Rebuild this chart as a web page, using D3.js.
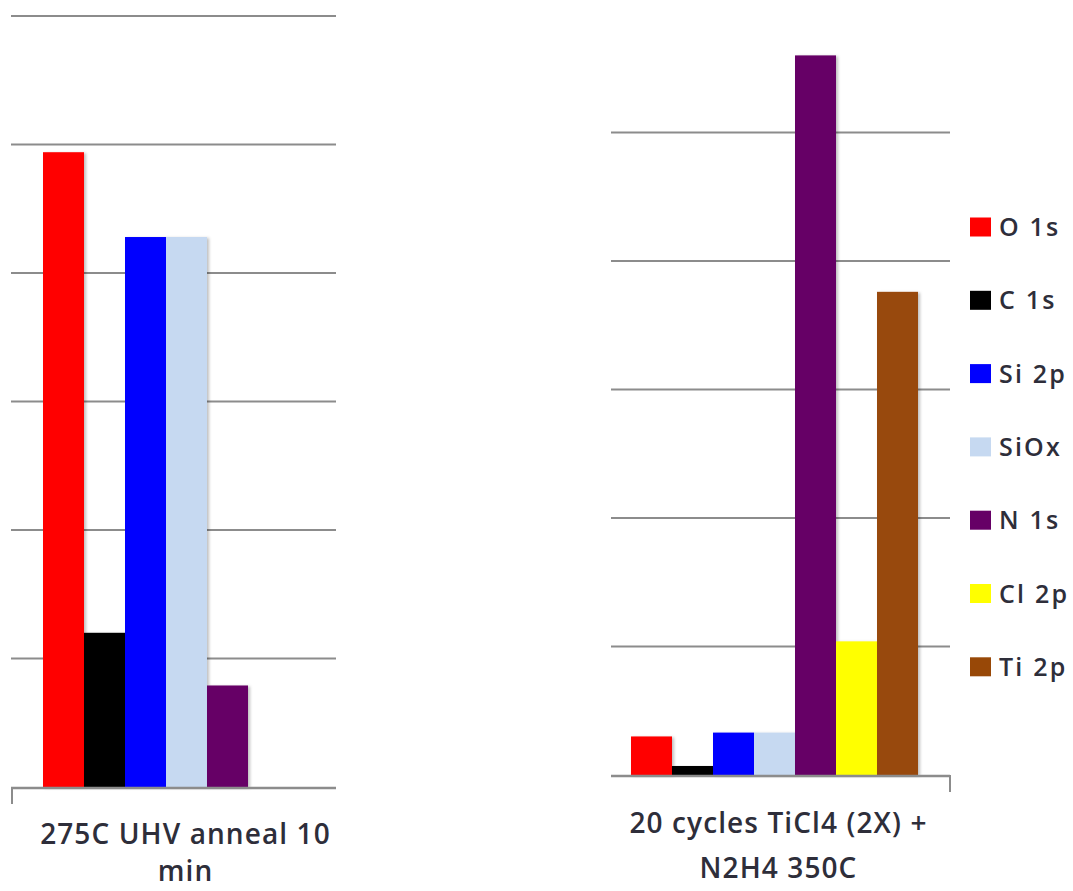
<!DOCTYPE html>
<html>
<head>
<meta charset="utf-8">
<script src="https://cdn.jsdelivr.net/npm/d3@7"></script>
<style>
  html, body { margin: 0; padding: 0; background: #fff; }
  svg { display: block; }
  text { font-family: "Open Sans", Lato, sans-serif; fill: #2e2e3a; font-weight: 600; }
</style>
</head>
<body>
<div id="chart"></div>
<script>
// series shown in both panels (legend order)
const series = ['O 1s', 'C 1s', 'Si 2p', 'SiOx', 'N 1s', 'Cl 2p', 'Ti 2p'];
const colors = ['#ff0000', '#000000', '#0000ff', '#c6d9f1', '#660066', '#ffff00', '#984807'];

// left panel: 275C UHV anneal 10 min (Cl 2p, Ti 2p not measured)
const annealLabel = ['275C UHV anneal 10', 'min'];
const annealValues = [4.94, 1.2, 4.28, 4.28, 0.79, 0, 0];

// right panel: 20 cycles TiCl4 (2X) + N2H4 350C
const depoLabel = ['20 cycles TiCl4 (2X) +', 'N2H4 350C'];
const depoValues = [0.3, 0.07, 0.33, 0.33, 5.6, 1.04, 3.76];

const gridTicksLeft = [1, 2, 3, 4, 5, 6];
const gridTicksRight = [1, 2, 3, 4, 5];

const width = 1073, height = 891;
const svg = d3.select('#chart').append('svg').attr('width', width).attr('height', height);

const defs = svg.append('defs');
defs.append('filter').attr('id', 'shadow').attr('x', '-10%').attr('y', '-10%')
  .attr('width', '130%').attr('height', '120%')
  .append('feDropShadow')
  .attr('dx', 2).attr('dy', 1).attr('stdDeviation', 1.5)
  .attr('flood-color', '#000').attr('flood-opacity', 0.25);

function panel(opts) {
  const g = svg.append('g');
  const y = d3.scaleLinear().domain([0, 6]).range([opts.base, opts.base - 6 * 128.5]);
  const x0 = d3.scaleBand().domain([opts.label.join(' ')]).range([opts.bx0, opts.bx1]);
  const x1 = d3.scaleBand().domain(series).range([0, x0.bandwidth()]);

  // gridlines
  g.selectAll('line.grid')
    .data(opts.ticks)
    .enter()
    .append('line')
    .attr('class', 'grid')
    .attr('x1', opts.gx0)
    .attr('x2', opts.gx1)
    .attr('y1', (d) => y(d))
    .attr('y2', (d) => y(d))
    .attr('stroke', '#8c8c8c')
    .attr('stroke-width', 2);

  // bars
  const data = series.map((s, i) => ({ s, v: opts.values[i], c: colors[i] })).filter((d) => d.v > 0);
  g.selectAll('rect')
    .data(data)
    .enter()
    .append('rect')
    .attr('x', (d) => x0(opts.label.join(' ')) + x1(d.s))
    .attr('y', (d) => y(d.v))
    .attr('width', x1.bandwidth())
    .attr('height', (d) => y(0) - y(d.v))
    .attr('fill', (d) => d.c)
    .attr('filter', 'url(#shadow)');

  // category axis
  g.append('line')
    .attr('x1', opts.gx0).attr('x2', opts.gx1)
    .attr('y1', y(0) + 1).attr('y2', y(0) + 1)
    .attr('stroke', '#8c8c8c').attr('stroke-width', 2.5);
  g.append('line')
    .attr('x1', opts.tickX).attr('x2', opts.tickX)
    .attr('y1', y(0)).attr('y2', y(0) + 17)
    .attr('stroke', '#8c8c8c').attr('stroke-width', 2);

  // category label
  const t = g.append('text')
    .attr('text-anchor', 'middle')
    .attr('font-size', 28)
    .attr('letter-spacing', 1.1);
  opts.label.forEach((line, i) => {
    t.append('tspan')
      .attr('x', x0(opts.label.join(' ')) + x0.bandwidth() / 2 + opts.labelShift)
      .attr('y', opts.labelY + i * opts.lineGap)
      .text(line);
  });
}

panel({
  label: annealLabel, values: annealValues, ticks: gridTicksLeft,
  base: 787, gx0: 11, gx1: 336, bx0: 43, bx1: 330, tickX: 12,
  labelY: 844, lineGap: 37, labelShift: -1
});

panel({
  label: depoLabel, values: depoValues, ticks: gridTicksRight,
  base: 775, gx0: 611, gx1: 950, bx0: 631, bx1: 918, tickX: 950,
  labelY: 833, lineGap: 45, labelShift: 4
});

// legend
const legend = svg.append('g').attr('transform', 'translate(970,227)');
const items = legend.selectAll('g')
  .data(series)
  .enter()
  .append('g')
  .attr('transform', (d, i) => `translate(0,${i * 73.3})`);
items.append('rect')
  .attr('x', 0).attr('y', -9.5)
  .attr('width', 21).attr('height', 19)
  .attr('fill', (d, i) => colors[i]);
items.append('text')
  .attr('x', 29).attr('y', 0)
  .attr('dy', '0.36em')
  .attr('font-size', 25)
  .attr('letter-spacing', 2.2)
  .text((d) => d);
</script>
</body>
</html>
